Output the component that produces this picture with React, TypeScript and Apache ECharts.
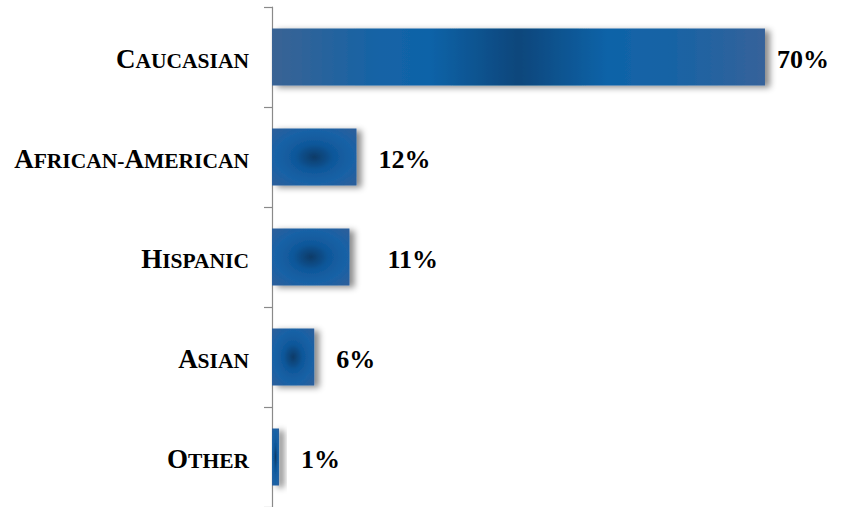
import React, { useEffect, useRef } from "react";
import * as echarts from "echarts";

const categories = ["Caucasian", "African-American", "Hispanic", "Asian", "Other"];
const values = [70, 12, 11, 6, 1];

const SERIF = '"Liberation Serif", "Times New Roman", Times, serif';

// label gap (style only) per bar
const labelGap: Record<string, number> = { Caucasian: 12, Hispanic: 38 };

function smallCaps(s: string): string {
  let out = "";
  let run = "";
  let runBig: boolean | null = null;
  const flush = () => {
    if (run) out += `{${runBig ? "b" : "s"}|${run}}`;
    run = "";
  };
  for (const ch of s) {
    const big = ch !== ch.toLowerCase();
    if (runBig !== null && big !== runBig) flush();
    runBig = big;
    run += ch.toUpperCase();
  }
  flush();
  return out;
}

const wideFill = new echarts.graphic.LinearGradient(0, 0, 1, 0, [
  { offset: 0, color: "#3a6394" },
  { offset: 0.22, color: "#1463a6" },
  { offset: 0.32, color: "#0f63a8" },
  { offset: 0.5, color: "#07467b" },
  { offset: 0.68, color: "#0f63a8" },
  { offset: 0.8, color: "#1663a5" },
  { offset: 1, color: "#36629a" },
]);

const smallFill = () =>
  new echarts.graphic.RadialGradient(0.5, 0.5, 0.65, [
    { offset: 0, color: "#083b68" },
    { offset: 0.35, color: "#0f579a" },
    { offset: 0.7, color: "#1862a6" },
    { offset: 1, color: "#2a5f9c" },
  ]);

export default function App() {
  const ref = useRef<HTMLDivElement>(null);
  useEffect(() => {
    if (!ref.current) return;
    const chart = echarts.init(ref.current, null, { renderer: "svg" });
    chart.setOption({
      animation: false,
      backgroundColor: "#ffffff",
      grid: { left: 272, right: 10.6, top: 7, bottom: -2 },
      xAxis: {
        type: "value",
        min: 0,
        max: 80,
        show: false,
      },
      yAxis: {
        type: "category",
        inverse: true,
        data: categories,
        axisLine: { show: true, lineStyle: { color: "#8a8a8a", width: 1.2 } },
        axisTick: { show: true, length: 8, lineStyle: { color: "#8a8a8a", width: 1.2 } },
        splitLine: { show: false },
        axisLabel: {
          margin: 23,
          color: "#000",
          fontFamily: SERIF,
          fontWeight: "bold",
          formatter: (v: string) => smallCaps(v),
          rich: {
            b: {
              fontFamily: SERIF,
              fontWeight: "bold",
              fontSize: 27,
              color: "#000",
              verticalAlign: "bottom",
              lineHeight: 30,
            },
            s: {
              fontFamily: SERIF,
              fontWeight: "bold",
              fontSize: 21.5,
              color: "#000",
              verticalAlign: "bottom",
              lineHeight: 30,
            },
          },
        },
      },
      series: [
        {
          type: "bar",
          barWidth: 57,
          data: values.map((v, i) => ({
            value: v,
            itemStyle: { color: i === 0 ? wideFill : smallFill() },
            label: { distance: labelGap[categories[i]] ?? 22 },
          })),
          itemStyle: {
            shadowBlur: 6,
            shadowColor: "rgba(0,0,0,0.45)",
            shadowOffsetX: 5,
            shadowOffsetY: 2,
          },
          label: {
            show: true,
            position: "right",
            formatter: "{c}%",
            fontFamily: SERIF,
            fontWeight: "bold",
            fontSize: 26,
            color: "#000",
            offset: [0, 2],
          },
        },
      ],
    });
    return () => chart.dispose();
  }, []);
  return (
    <div
      ref={ref}
      style={{ position: "fixed", left: 0, top: 0, width: 846, height: 507 }}
    />
  );
}
